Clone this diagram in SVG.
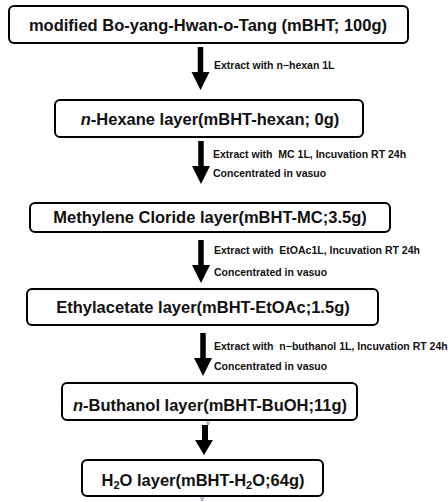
<svg xmlns="http://www.w3.org/2000/svg" width="448" height="502" viewBox="0 0 448 502">
<style>
.box{fill:#fff;stroke:#000;stroke-width:2}
.t{font-family:"Liberation Sans",Arial,sans-serif;font-weight:bold;font-size:16.5px;fill:#111;text-anchor:middle}
.l{font-family:"Liberation Sans",Arial,sans-serif;font-size:10.5px;fill:#111;font-weight:bold;white-space:pre}
.v{font-family:"Liberation Sans",Arial,sans-serif;font-size:7px;fill:#2a4a8a;text-anchor:middle}
</style>
<defs>
<path id="arr" d="M-2.75,0 H2.75 V25 H9 L0,43 L-9,25 H-2.75 Z" fill="#000"/>
</defs>
<rect width="448" height="502" fill="#fff"/>
<g id="connectors">
<use href="#arr" x="200.5" y="47"/>
<use href="#arr" x="201" y="141"/>
<use href="#arr" x="201" y="240"/>
<use href="#arr" x="203" y="333"/>
<path d="M202,425 H208 V440 H213 L204,455 L195,440 H202 Z" fill="#000"/>
<text class="l" x="214" y="69">Extract with n−hexan 1L</text>
<text class="l" x="213" y="158">Extract with  MC 1L, Incuvation RT 24h</text>
<text class="l" x="213" y="177">Concentrated in vasuo</text>
<text class="l" x="214" y="254">Extract with  EtOAc1L, Incuvation RT 24h</text>
<text class="l" x="214" y="276">Concentrated in vasuo</text>
<text class="l" x="214" y="350">Extract with  n−buthanol 1L, Incuvation RT 24h</text>
<text class="l" x="214" y="370">Concentrated in vasuo</text>
</g>
<g id="n1">
<rect class="box" x="9" y="6" width="399" height="37" rx="5"/>
<text class="t" x="208" y="31">modified Bo-yang-Hwan-o-Tang (mBHT; 100g)</text>
</g>
<g id="n2">
<rect class="box" x="55" y="100" width="308" height="37" rx="5"/>
<text class="t" x="210" y="125"><tspan font-style="italic">n</tspan>-Hexane layer(mBHT-hexan; 0g)</text>
</g>
<g id="n3">
<rect class="box" x="30" y="203" width="360" height="29" rx="5"/>
<text class="t" x="210" y="223">Methylene Cloride layer(mBHT-MC;3.5g)</text>
</g>
<g id="n4">
<rect class="box" x="27" y="289" width="351" height="36" rx="5"/>
<text class="t" x="203" y="313">Ethylacetate layer(mBHT-EtOAc;1.5g)</text>
</g>
<g id="n5">
<rect class="box" x="62" y="383" width="295" height="37" rx="5"/>
<text class="t" x="210" y="411"><tspan font-style="italic">n</tspan>-Buthanol layer(mBHT-BuOH;11g)</text>
<text class="v" x="208" y="425">v</text>
</g>
<g id="n6">
<rect class="box" x="82" y="460" width="241" height="36" rx="5"/>
<text class="t" x="203" y="486">H<tspan font-size="11" dy="3">2</tspan><tspan dy="-3">O layer(mBHT-H</tspan><tspan font-size="11" dy="3">2</tspan><tspan dy="-3">O;64g)</tspan></text>
<text class="v" x="202" y="501">v</text>
</g>
</svg>
